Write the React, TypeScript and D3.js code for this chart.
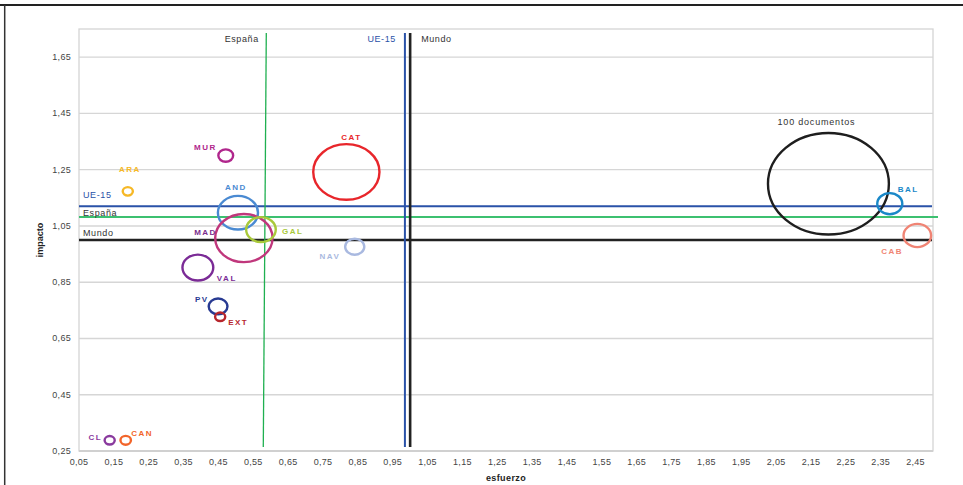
import React from "react";
import * as d3 from "d3";

// ---- data ----
const regions = ["CAT", "MUR", "ARA", "AND", "MAD", "GAL", "NAV", "VAL", "PV", "EXT", "CL", "CAN", "BAL", "CAB"];
const esfuerzo = [0.817, 0.471, 0.19, 0.506, 0.523, 0.572, 0.841, 0.391, 0.449, 0.455, 0.138, 0.184, 2.376, 2.455];
const impacto = [1.242, 1.3, 1.173, 1.097, 1.007, 1.037, 0.976, 0.902, 0.764, 0.727, 0.288, 0.288, 1.129, 1.016];
const documentos = [30, 1.5, 0.7, 11, 22.5, 6, 2.5, 6.5, 2.4, 0.7, 0.7, 0.75, 4.3, 5.2];

const refNames = ["España", "UE-15", "Mundo"];
const refEsfuerzo = [0.583, 0.985, 1.0];
const refImpacto = [1.082, 1.12, 1.0];

const legendName = "100 documentos";
const legendEsfuerzo = 2.2;
const legendImpacto = 1.2;
const legendDocs = 100;

const xTicks = d3.range(0, 25).map((i) => 0.05 + i * 0.1);
const yTicks = [0.25, 0.45, 0.65, 0.85, 1.05, 1.25, 1.45, 1.65];

// ---- styles ----
const strokeColors: Record<string, string> = {
  CAT: "#e8262b", MUR: "#b0268c", ARA: "#f6b826", AND: "#4a8ad2", MAD: "#c0377c",
  GAL: "#a9c93a", NAV: "#a9b9e0", VAL: "#7b2b96", PV: "#283a92", EXT: "#b7262d",
  CL: "#8a3a9e", CAN: "#f2652a", BAL: "#1a88c8", CAB: "#f08474",
};
const labelColors: Record<string, string> = { ...strokeColors, MAD: "#7a2d8c" };
// label offset (px) from bubble centre + anchor
const labelPos: Record<string, [number, number, string]> = {
  CAT: [5, -32, "middle"], MUR: [-9, -6, "end"], ARA: [2, -19, "middle"],
  AND: [-2, -23, "middle"], MAD: [-27, -3.5, "end"], GAL: [21, 4, "start"],
  NAV: [-14.5, 12, "end"], VAL: [19, 13, "start"], PV: [-9.5, -4, "end"],
  EXT: [8, 8.6, "start"], CL: [-7.5, -0.5, "end"], CAN: [5.5, -4, "start"],
  BAL: [8, -11.7, "start"], CAB: [-36, 18.5, "start"],
};
const refColors: Record<string, string> = { "España": "#3cc070", "UE-15": "#2a52a8", "Mundo": "#222222" };
const refVColors: Record<string, string> = { "España": "#1fb050", "UE-15": "#2a52a8", "Mundo": "#222222" };

const FONT = "'Liberation Sans', Arial, Helvetica, sans-serif";

export default function App() {
  const W = 963, H = 485;
  const left = 79, right = 933, top = 29, bottom = 451;
  const x = d3.scaleLinear().domain([0.05, 2.5]).range([left, right]);
  const y = d3.scaleLinear().domain([0.25, 1.75]).range([bottom, top]);
  const r = d3.scaleSqrt().domain([0, 100]).range([0, 50.8]);
  const stretch = 1.19;
  const fmt = (v: number) => d3.format(".2f")(v).replace(".", ",");

  const refTopY = 33, refBottomY = 447;

  return (
    <svg width={W} height={H} style={{ position: "absolute", left: 0, top: 0, fontFamily: FONT }}>
      <rect x={0} y={0} width={W} height={H} fill="#fff" />
      {/* frame */}
      <line x1={0} x2={W} y1={5} y2={5} stroke="#222" strokeWidth={2} />
      <line x1={4.7} x2={4.7} y1={5} y2={H} stroke="#333" strokeWidth={1.5} />

      {/* gridlines */}
      {yTicks.map((t) => (
        <line key={"g" + t} x1={left} x2={right} y1={y(t)} y2={y(t)} stroke="#d6d6d6" strokeWidth={1.4} />
      ))}
      {/* plot border */}
      <rect x={left} y={top} width={right - left} height={bottom - top} fill="none" stroke="#d4d4d4" strokeWidth={1.3} />
      <line x1={left} x2={right} y1={bottom} y2={bottom} stroke="#d0d0d0" strokeWidth={2} />

      {/* y tick labels */}
      {yTicks.map((t) => (
        <text key={"yl" + t} x={71} y={y(t) + 3} textAnchor="end" fontSize={9} fill="#444" letterSpacing={0.3}>
          {fmt(t)}
        </text>
      ))}
      {/* x tick labels */}
      {xTicks.map((t) => (
        <text key={"xl" + t} x={x(t)} y={465} textAnchor="middle" fontSize={9} fill="#444" letterSpacing={0.3}>
          {fmt(t)}
        </text>
      ))}

      {/* axis titles */}
      <text x={(left + right) / 2} y={481} textAnchor="middle" fontSize={9} fontWeight="bold" fill="#222" letterSpacing={0.4}>
        esfuerzo
      </text>
      <text transform={`translate(43,${(top + bottom) / 2}) rotate(-90)`} textAnchor="middle" fontSize={9} fontWeight="bold" fill="#222">
        impacto
      </text>

      {/* reference lines: horizontal */}
      {refNames.map((n, i) => (
        <line key={"rh" + n} x1={left} x2={n === "España" ? 938 : 932} y1={y(refImpacto[i])} y2={y(refImpacto[i])}
          stroke={refColors[n]} strokeWidth={n === "Mundo" ? 2.5 : 2} />
      ))}
      {/* reference lines: vertical */}
      {refNames.map((n, i) => (
        <line key={"rv" + n}
          x1={x(refEsfuerzo[i]) + (n === "España" ? 1.5 : 0)} x2={x(refEsfuerzo[i]) - (n === "España" ? 1.5 : 0)}
          y1={refTopY} y2={refBottomY}
          stroke={refVColors[n]} strokeWidth={n === "Mundo" ? 2.6 : n === "España" ? 1.3 : 2} />
      ))}
      {/* reference labels */}
      <text x={x(refEsfuerzo[0]) - 6} y={42} textAnchor="end" fontSize={9} fill="#333" letterSpacing={0.6}>{refNames[0]}</text>
      <text x={x(refEsfuerzo[1]) - 9} y={42} textAnchor="end" fontSize={9} fill={refColors["UE-15"]} letterSpacing={0.6}>{refNames[1]}</text>
      <text x={x(refEsfuerzo[2]) + 11} y={42} textAnchor="start" fontSize={9} fill="#333" letterSpacing={0.6}>{refNames[2]}</text>
      <text x={83} y={y(refImpacto[1]) - 8} fontSize={9} fill={refColors["UE-15"]} letterSpacing={0.6}>{refNames[1]}</text>
      <text x={83} y={y(refImpacto[0]) - 1} fontSize={9} fill="#333" letterSpacing={0.6}>{refNames[0]}</text>
      <text x={83} y={y(refImpacto[2]) - 4} fontSize={9} fill="#333" letterSpacing={0.6}>{refNames[2]}</text>

      {/* legend bubble */}
      <ellipse cx={x(legendEsfuerzo)} cy={y(legendImpacto)} rx={r(legendDocs) * stretch} ry={r(legendDocs)}
        fill="none" stroke="#1e1e1e" strokeWidth={2.4} />
      <text x={x(legendEsfuerzo) - 12} y={125} textAnchor="middle" fontSize={9} fill="#333" letterSpacing={0.8}>{legendName}</text>

      {/* bubbles */}
      {regions.map((n, i) => (
        <ellipse key={"b" + n} cx={x(esfuerzo[i])} cy={y(impacto[i])} rx={r(documentos[i]) * stretch} ry={r(documentos[i])}
          fill="none" stroke={strokeColors[n]} strokeWidth={2.4} />
      ))}
      {regions.map((n, i) => {
        const [dx, dy, anchor] = labelPos[n];
        return (
          <text key={"t" + n} x={x(esfuerzo[i]) + dx} y={y(impacto[i]) + dy} textAnchor={anchor as any}
            fontSize={8} fontWeight="bold" fill={labelColors[n]} letterSpacing={1.5}>
            {n}
          </text>
        );
      })}
    </svg>
  );
}
